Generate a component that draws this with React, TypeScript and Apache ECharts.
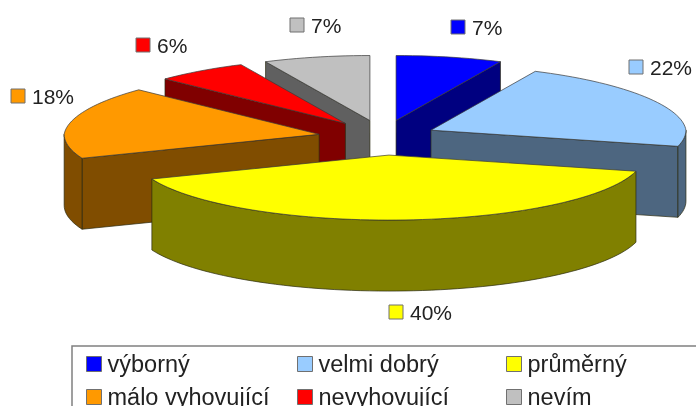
import React, { useEffect, useRef } from "react";
import * as echarts from "echarts";

const categories = ["výborný", "velmi dobrý", "průměrný", "málo vyhovující", "nevyhovující", "nevím"];
const percentages = [7, 22, 40, 18, 6, 7];

const topColors = ["#0000FF", "#99CCFF", "#FFFF00", "#FF9900", "#FF0000", "#C0C0C0"];
const sideColors = ["#000080", "#4D6680", "#808000", "#804D00", "#800000", "#606060"];
// Back-to-front painting order, as slice indexes.
const drawOrder = [5, 0, 4, 1, 3, 2];
// Horizontal explosion distance of each slice.
const explodeX = [60, 53, 95, 65, 64, 60];
// Data label anchors (left edge of key, vertical centre).
const labelAnchors = [[451, 27], [629, 67], [389, 312], [11, 96], [136, 45], [290, 25]];
// Legend cell of each slice: column, row.
const legendCells = [[0, 0], [1, 0], [2, 0], [0, 1], [1, 1], [2, 1]];
const legendLefts = [86, 297, 506];
const legendRowTops = [352, 385];

const CX = 383, CY = 137.6, EY = 17.5, RY = 65, DEPTH = 71;
const rad = (d: number) => (d * Math.PI) / 180;
const rx = (deg: number) => 255 - 11 * Math.max(0, Math.cos(rad(deg)));

const total = percentages.reduce((a, b) => a + b, 0);
const startAngles = percentages.map((_, i) =>
  percentages.slice(0, i).reduce((a, b) => a + b, 0) / total * 360
);

function renderSlice(index: number) {
  return (_params: any, api: any) => {
    const value = api.value(0);
    const a0 = startAngles[index];
    const a1 = a0 + (value / total) * 360;
    const mid = (a0 + a1) / 2;
    const ox = CX + explodeX[index] * Math.sin(rad(mid));
    const oy = CY - EY * Math.cos(rad(mid));
    const pt = (deg: number, dy = 0): number[] => [
      ox + rx(deg) * Math.sin(rad(deg)),
      oy - RY * Math.cos(rad(deg)) + dy,
    ];
    const arc = (from: number, to: number, dy = 0) => {
      const n = Math.max(2, Math.ceil((to - from) / 2));
      const pts: number[][] = [];
      for (let k = 0; k <= n; k++) pts.push(pt(from + ((to - from) * k) / n, dy));
      return pts;
    };
    const sideStyle = { fill: sideColors[index], stroke: "#2a2a10", lineWidth: 0.7 };
    const children: any[] = [];
    const wall = (deg: number) => {
      const p = pt(deg);
      children.push({
        type: "polygon",
        shape: { points: [[ox, oy], p, [p[0], p[1] + DEPTH], [ox, oy + DEPTH]] },
        style: sideStyle,
      });
    };
    if (Math.sin(rad(a0)) < 0) wall(a0);
    if (Math.sin(rad(a1)) > 0) wall(a1);
    const rimFrom = Math.max(a0, 90);
    const rimTo = Math.min(a1, 270);
    if (rimTo > rimFrom) {
      const upper = arc(rimFrom, rimTo);
      const lower = arc(rimFrom, rimTo, DEPTH).reverse();
      children.push({
        type: "polygon",
        shape: { points: upper.concat(lower) },
        style: sideStyle,
      });
    }
    children.push({
      type: "polygon",
      shape: { points: [[ox, oy] as number[]].concat(arc(a0, a1)) },
      style: { fill: topColors[index], stroke: "#3a3a3a", lineWidth: 0.7 },
    });
    const [lx, ly] = labelAnchors[index];
    children.push({
      type: "rect",
      shape: { x: lx, y: ly - 7, width: 14, height: 14 },
      style: { fill: topColors[index], stroke: "#707070", lineWidth: 1 },
    });
    children.push({
      type: "text",
      x: lx + 21,
      y: ly,
      style: {
        text: `${value}%`,
        font: '21px "Liberation Sans", Arial, sans-serif',
        fill: "#222222",
        align: "left",
        verticalAlign: "middle",
      },
    });
    return { type: "group", children };
  };
}

export default function App() {
  const ref = useRef<HTMLDivElement>(null);
  useEffect(() => {
    document.body.style.margin = "0";
    const chart = echarts.init(ref.current!, undefined, { renderer: "svg" });
    chart.setOption({
      animation: false,
      backgroundColor: "#FFFFFF",
      legend: categories.map((name, i) => ({
        orient: "horizontal",
        left: legendLefts[legendCells[i][0]],
        top: legendRowTops[legendCells[i][1]],
        padding: 0,
        width: 220,
        height: 40,
        itemWidth: 15,
        itemHeight: 15,
        itemGap: 0,
        icon: "rect",
        selectedMode: false,
        data: [name],
        itemStyle: { borderColor: "#707070", borderWidth: 1 },
        textStyle: {
          fontFamily: '"Liberation Sans", Arial, sans-serif',
          fontSize: 23.5,
          color: "#222222",
          padding: [0, 0, 0, 1],
        },
      })),
      graphic: [
        {
          type: "rect",
          z: -1,
          shape: { x: 72, y: 346, width: 700, height: 120 },
          style: { fill: "#FFFFFF", stroke: "#808080", lineWidth: 1.5 },
        },
      ],
      series: drawOrder.map((i, pos) => ({
        type: "custom",
        name: categories[i],
        coordinateSystem: "none",
        z: 2 + pos,
        itemStyle: { color: topColors[i] },
        data: [{ name: categories[i], value: percentages[i] }],
        renderItem: renderSlice(i),
      })),
    });
    return () => chart.dispose();
  }, []);
  return (
    <div
      ref={ref}
      style={{ width: 696, height: 406, overflow: "hidden", filter: "blur(0.4px)" }}
    />
  );
}
